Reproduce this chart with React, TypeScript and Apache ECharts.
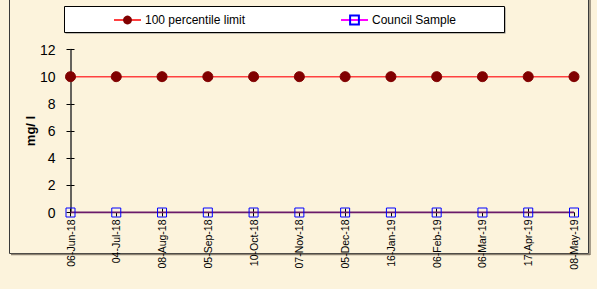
import React, { useEffect, useRef } from "react";
import * as echarts from "echarts";

const categories = ["06-Jun-18", "04-Jul-18", "08-Aug-18", "05-Sep-18", "10-Oct-18", "07-Nov-18", "05-Dec-18", "16-Jan-19", "06-Feb-19", "06-Mar-19", "17-Apr-19", "08-May-19"];
const limitValues = [10, 10, 10, 10, 10, 10, 10, 10, 10, 10, 10, 10];
const sampleValues = [0, 0, 0, 0, 0, 0, 0, 0, 0, 0, 0, 0];
const seriesNames = ["100 percentile limit", "Council Sample"];
const yAxisTitle = "mg/ l";

const FONT = "Liberation Sans, Arial, sans-serif";

export default function App() {
  const ref = useRef<HTMLDivElement>(null);
  useEffect(() => {
    const chart = echarts.init(ref.current!, null, { renderer: "svg" });
    chart.setOption({
      animation: false,
      backgroundColor: "#FCF3DC",
      textStyle: { fontFamily: FONT },
      graphic: [
        { type: "rect", shape: { x: 9.5, y: -2, width: 579, height: 255.5 }, style: { fill: "none", stroke: "#3a3a3a", lineWidth: 1 }, z: 0 },
        { type: "line", shape: { x1: 590, y1: 0, x2: 590, y2: 255 }, style: { stroke: "#8a8070", lineWidth: 1.5 }, z: 0 },
        { type: "line", shape: { x1: 11, y1: 254.5, x2: 590, y2: 254.5 }, style: { stroke: "#8a8070", lineWidth: 1.5 }, z: 0 },
        { type: "rect", shape: { x: 65.5, y: 7.5, width: 440, height: 26 }, style: { fill: "#808080" }, z: 0 },
        { type: "rect", shape: { x: 64.5, y: 6.5, width: 440, height: 26 }, style: { fill: "#ffffff", stroke: "#000000", lineWidth: 1 }, z: 1 },
        { type: "text", x: 30, y: 131, rotation: Math.PI / 2, style: { text: yAxisTitle, font: "bold 13px " + FONT, fill: "#000", align: "center", verticalAlign: "middle" }, z: 5 },
      ],
      legend: [
        { data: [{ name: seriesNames[0] }], left: 113, top: 14, padding: 0, itemWidth: 27, itemHeight: 11, itemGap: 4, textStyle: { fontSize: 12, fontFamily: FONT, color: "#000", padding: [0, 0, 0, -1] }, z: 10 },
        { data: [{ name: seriesNames[1], lineStyle: { color: "#FF00FF" } }], left: 340, top: 14, padding: 0, itemWidth: 27, itemHeight: 11, itemGap: 4, textStyle: { fontSize: 12, fontFamily: FONT, color: "#000", padding: [0, 0, 0, -1] }, z: 10 },
      ],
      grid: { left: 70.5, right: 23, top: 49.5, bottom: 76.5 },
      xAxis: [
        {
          type: "category", data: categories, boundaryGap: false,
          axisLine: { lineStyle: { color: "#000", width: 1 } },
          axisTick: { alignWithLabel: true, length: 4, lineStyle: { color: "#000" } },
          axisLabel: { rotate: 90, fontSize: 10.5, color: "#000", margin: 7, fontFamily: FONT },
          splitLine: { show: false },
        },
        {
          type: "category", data: categories, boundaryGap: false, position: "bottom",
          axisLine: { show: false },
          axisTick: { inside: true, length: 4, lineStyle: { color: "#000" } },
          axisLabel: { show: false },
          splitLine: { show: false },
        },
      ],
      yAxis: [
        {
          type: "value", min: 0, max: 12, interval: 2,
          axisLine: { show: true, lineStyle: { color: "#333", width: 1.5 } },
          axisTick: { show: true, length: 4, lineStyle: { color: "#000" } },
          axisLabel: { fontSize: 14, color: "#000", margin: 15, fontFamily: FONT },
          splitLine: { show: false },
        },
        {
          type: "value", min: 0, max: 12, interval: 2, position: "left",
          axisLine: { show: false },
          axisTick: { show: true, inside: true, length: 4, lineStyle: { color: "#000" } },
          axisLabel: { show: false },
          splitLine: { show: false },
        },
      ],
      series: [
        {
          name: seriesNames[0], type: "line", data: limitValues,
          symbol: "circle", symbolSize: 10,
          lineStyle: { color: "#FF4040", width: 1.5 },
          itemStyle: { color: "#800000", borderColor: "#800000" },
          z: 3,
        },
        {
          name: seriesNames[1], type: "line", data: sampleValues,
          symbol: "rect", symbolSize: 9,
          lineStyle: { color: "#6A1A6A", width: 2 },
          itemStyle: { color: "transparent", borderColor: "#0000FF", borderWidth: 1 },
          z: 4,
        },
      ],
    });
    return () => chart.dispose();
  }, []);
  return <div ref={ref} style={{ position: "fixed", left: 0, top: 0, width: 597, height: 289 }} />;
}
